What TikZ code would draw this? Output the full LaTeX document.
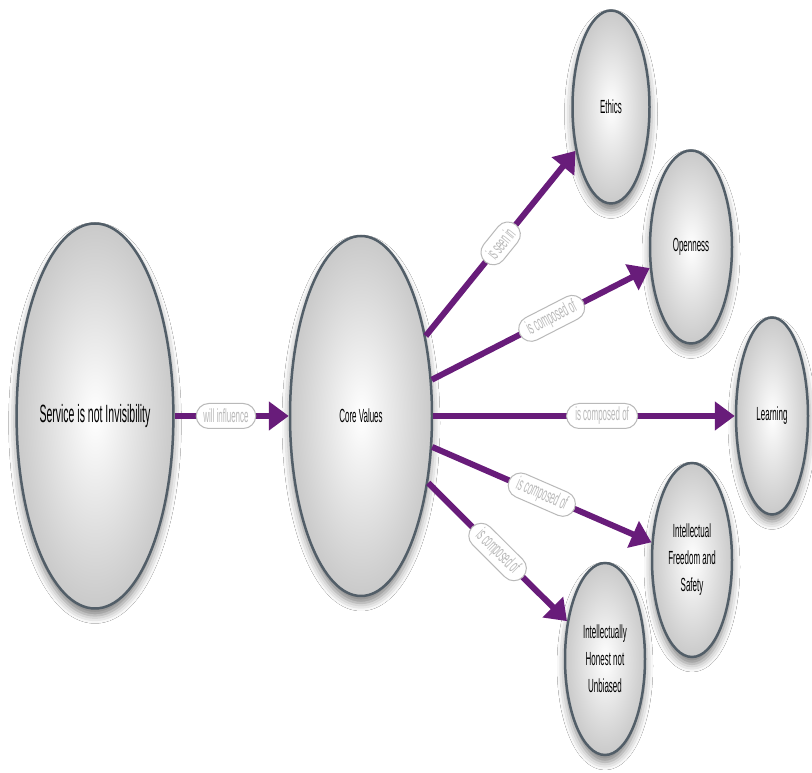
\documentclass[tikz,border=0pt]{standalone}
\usepackage{fontspec}
\newfontfamily\narrowsans[FakeStretch=0.42]{Liberation Sans}
\usetikzlibrary{shapes.geometric,shapes.misc,arrows.meta,shadows.blur}
\definecolor{linkpurple}{RGB}{104,28,122}
\definecolor{rimgray}{RGB}{82,94,104}
\tikzset{
concept/.style={
  ellipse,
  draw=rimgray,
  line width=2.5pt,
  inner sep=0pt,
  inner color=white,
  outer color=gray!42,
  align=center,
  text=black,
  font=\narrowsans\fontsize{19}{27}\selectfont,
  blur shadow={shadow xshift=0pt,shadow yshift=-7pt,shadow blur radius=8pt,shadow opacity=50}
},
link/.style={draw=linkpurple,line width=6pt,-{Triangle[length=20pt,width=28pt]}},
linklabel/.style={
  rounded rectangle,
  sloped,
  fill=white,
  draw=gray!55,
  line width=1pt,
  text=gray!55,
  font=\narrowsans\fontsize{19}{20}\selectfont,
  inner xsep=5pt,
  minimum height=25pt
},
}

\begin{document}
\begin{tikzpicture}[x=1pt,y=1pt]
\fill[white] (0,0) rectangle (812,773);
\useasboundingbox (0,0) rectangle (812,773);
% the concepts
\node[concept,minimum width=155pt,minimum height=385pt,font=\narrowsans\fontsize{25}{27}\selectfont] (service) at (95,357) {Service is not Invisibility};
\node[concept,minimum width=142pt,minimum height=360pt] (core) at (361,357) {Core Values};
\node[concept,minimum width=77pt,minimum height=193pt] (ethics) at (611,666) {Ethics};
\node[concept,minimum width=82pt,minimum height=193pt] (openness) at (691,526) {Openness};
\node[concept,minimum width=72pt,minimum height=197pt] (learning) at (772,357) {Learning};
\node[concept,minimum width=80pt,minimum height=194pt] (freedom) at (692,213) {Intellectual\\Freedom and\\Safety};
\node[concept,minimum width=80pt,minimum height=192pt] (honest) at (605,114) {Intellectually\\Honest not\\Unbiased};
% the links
\draw[link] (service) -- node[linklabel,pos=0.45] {will influence} (core);
\draw[link] (core) -- node[linklabel,pos=0.5] {is seen in} (ethics);
\draw[link] (core) -- node[linklabel,pos=0.55] {is composed of} (openness);
\draw[link] (core) -- node[linklabel,pos=0.56] {is composed of} (learning);
\draw[link] (core) -- node[linklabel,pos=0.5] {is composed of} (freedom);
\draw[link] (core) -- node[linklabel,pos=0.5] {is composed of} (honest);
\end{tikzpicture}
\end{document}
